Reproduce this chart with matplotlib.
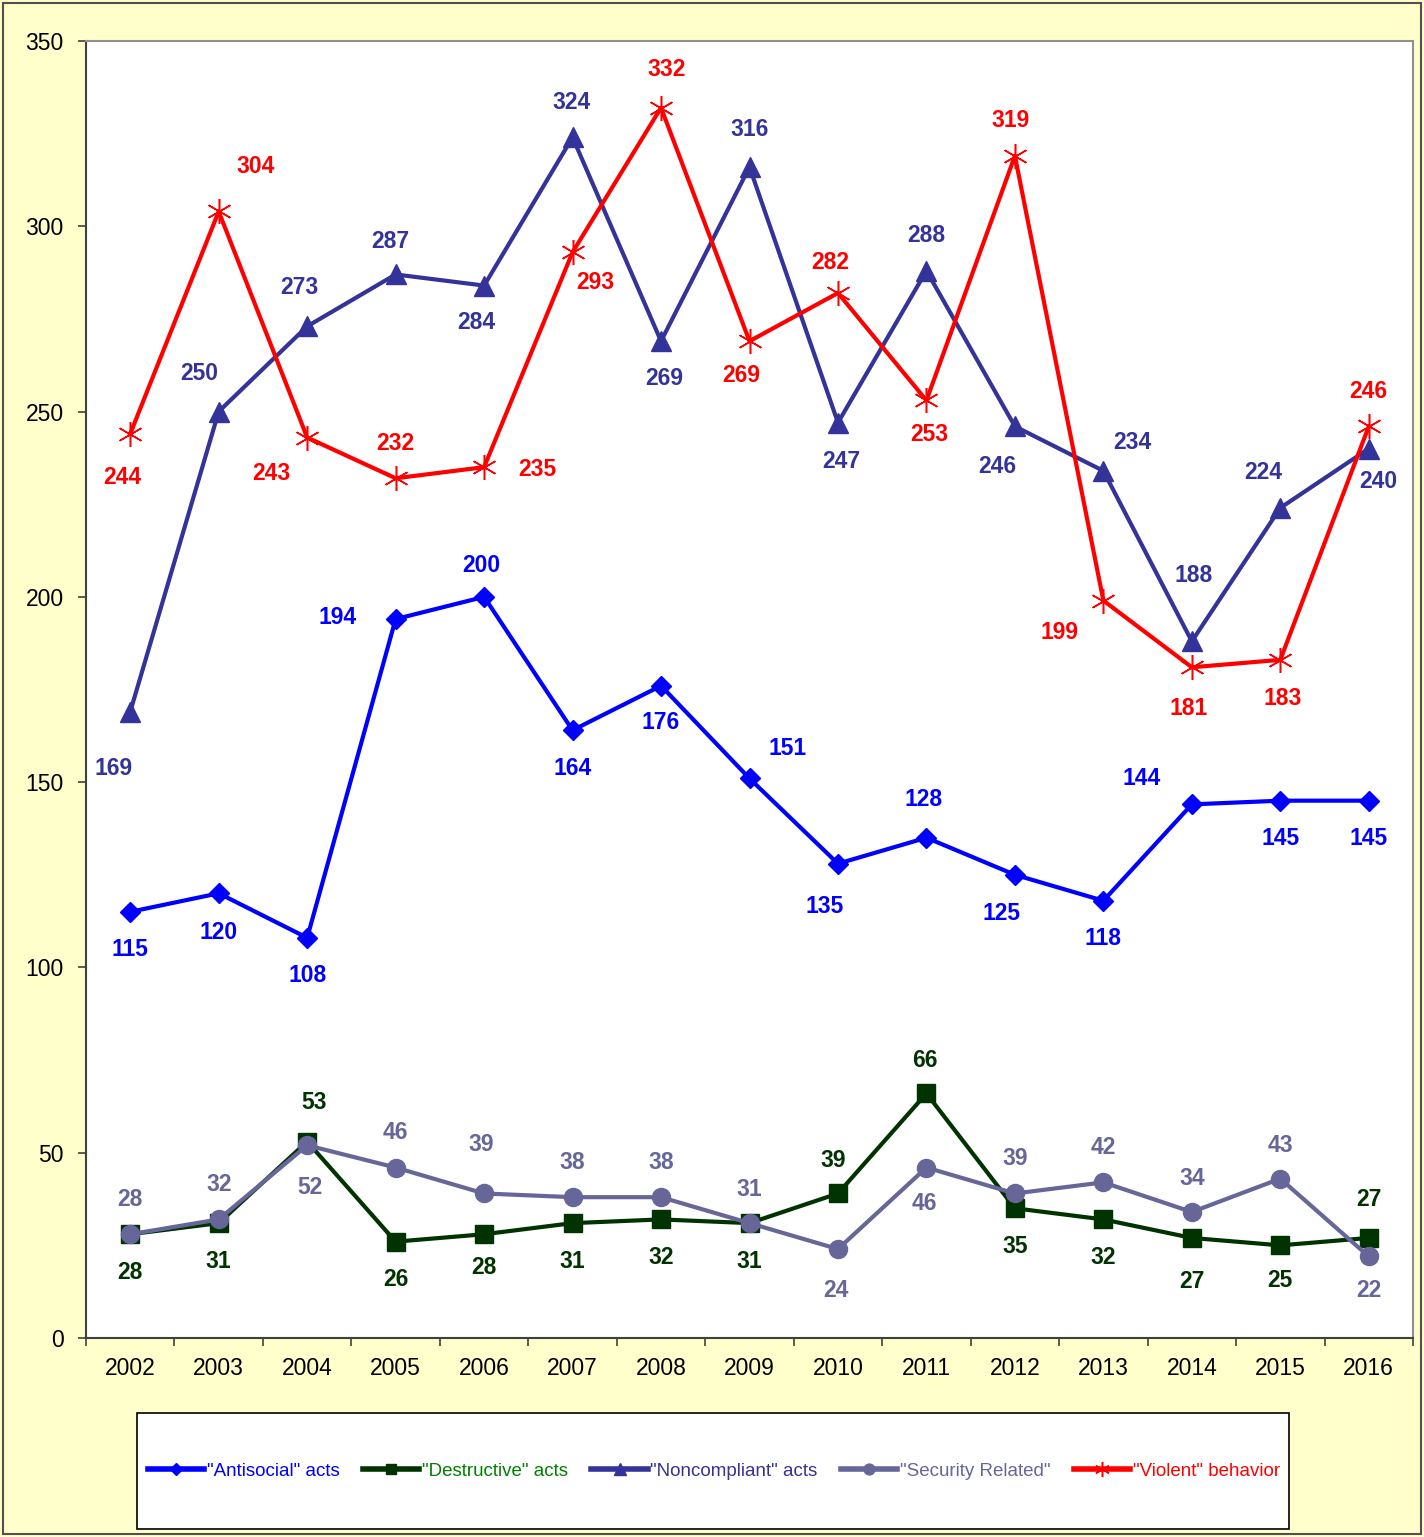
import matplotlib
matplotlib.use('Agg')
import matplotlib.pyplot as plt
from matplotlib.patches import Rectangle

plt.rcParams['font.family'] = ['Liberation Sans', 'DejaVu Sans']

years = [str(y) for y in range(2002, 2017)]

antisocial = [115, 120, 108, 194, 200, 164, 176, 151, 128, 135, 125, 118, 144, 145, 145]
antisocial_labels = ['115', '120', '108', '194', '200', '164', '176', '151', '135', '128',
                     '125', '118', '144', '145', '145']
destructive = [28, 31, 53, 26, 28, 31, 32, 31, 39, 66, 35, 32, 27, 25, 27]
noncompliant = [169, 250, 273, 287, 284, 324, 269, 316, 247, 288, 246, 234, 188, 224, 240]
security = [28, 32, 52, 46, 39, 38, 38, 31, 24, 46, 39, 42, 34, 43, 22]
violent = [244, 304, 243, 232, 235, 293, 332, 269, 282, 253, 319, 199, 181, 183, 246]

# label offsets in pixels (dx right, dy down) relative to each point
off_antisocial = [(0, 38), (0, 39), (0, 38), (-58, -2), (-3, -31), (0, 38), (0, 37), (38, -30),
                  (-13, 43), (-3, -38), (-13, 39), (0, 38), (-50, -26), (0, 38), (0, 38)]
off_destructive = [(0, 38), (0, 38), (7, -39), (0, 38), (0, 33), (0, 38), (0, 38), (0, 38),
                   (-5, -33), (-2, -33), (0, 38), (0, 38), (0, 44), (0, 35), (0, -38)]
off_noncompliant = [(-17, 57), (-19, -38), (-8, -39), (-5, -33), (-8, 37), (-1, -35), (3, 37),
                    (0, -37), (3, 39), (0, -35), (-18, 40), (29, -28), (2, -66), (-17, -35), (10, 33)]
off_security = [(0, -35), (0, -35), (3, 42), (0, -35), (-3, -49), (0, -35), (0, -35), (0, -34),
                (-2, 41), (-2, 36), (0, -35), (0, -35), (0, -34), (0, -33), (0, 34)]
off_violent = [(-8, 44), (37, -45), (-36, 36), (0, -35), (53, 2), (23, 30), (6, -38), (-8, 34),
               (-8, -30), (3, 34), (-4, -35), (-44, 32), (-3, 41), (2, 39), (0, -35)]

series = [
    ('"Antisocial" acts', antisocial, antisocial_labels, off_antisocial, '#0000FF', '#0000FF',
     dict(marker='D', markersize=10)),
    ('"Destructive" acts', destructive, None, off_destructive, '#003300', '#008000',
     dict(marker='s', markersize=13)),
    ('"Noncompliant" acts', noncompliant, None, off_noncompliant, '#333399', '#333399',
     dict(marker='^', markersize=14)),
    ('"Security Related"', security, None, off_security, '#666699', '#666699',
     dict(marker='o', markersize=13)),
    ('"Violent" behavior', violent, None, off_violent, '#FF0000', '#FF0000',
     dict(marker=(6, 2, 0), markersize=18, markeredgewidth=1.1)),
]

fig = plt.figure(figsize=(14.24, 15.37), dpi=100, facecolor='#FFFFCC')
ax = fig.add_axes([86 / 1424, 1 - 1338 / 1537, (1413 - 86) / 1424, (1338 - 41) / 1537])
ax.set_facecolor('white')

x = list(range(len(years)))
handles = []
for name, vals, labels, offs, color, tcolor, mk in series:
    h, = ax.plot(x, vals, color=color, linewidth=3, label=name, **mk)
    handles.append((h, tcolor))
    if labels is None:
        labels = [str(v) for v in vals]
    for xi, v, lab, (dx, dy) in zip(x, vals, labels, offs):
        ax.annotate(lab, (xi, v), xytext=(dx, -dy), textcoords='offset pixels',
                    ha='center', va='center', fontsize=16.5, fontweight='bold', color=color)

ax.set_xlim(-0.5, len(years) - 0.5)
ax.set_ylim(0, 350)
ax.set_yticks(range(0, 351, 50))
ax.set_xticks(x)
ax.set_xticklabels(years)
ax.set_xticks([i - 0.5 for i in range(len(years) + 1)], minor=True)
ax.tick_params(axis='x', which='major', length=0, pad=14, labelsize=16.5)
ax.tick_params(axis='x', which='minor', length=6, width=1.2, color='#404040')
ax.tick_params(axis='y', length=6, width=1.2, color='#404040', pad=10, labelsize=16.5)
for s in ['left', 'bottom']:
    ax.spines[s].set_color('#404040')
    ax.spines[s].set_linewidth(1.5)
for s in ['top', 'right']:
    ax.spines[s].set_color('#909090')
    ax.spines[s].set_linewidth(1.5)

# legend box
fig.patches.append(Rectangle((137 / 1424, 1 - 1529 / 1537), (1289 - 137) / 1424, 116 / 1537,
                             transform=fig.transFigure, facecolor='white', edgecolor='black',
                             linewidth=1.2, zorder=1))
leg = fig.legend(handles=[h for h, _ in handles], loc='center',
                 bbox_to_anchor=(714 / 1424, 1 - 1471 / 1537), ncol=5, frameon=False,
                 prop={'family': ['Liberation Sans Narrow', 'Liberation Sans'], 'size': 13.5},
                 handlelength=3.0, handletextpad=0.15, columnspacing=1.25, markerscale=0.6)
for t, (_, tc) in zip(leg.get_texts(), handles):
    t.set_color(tc)
for lh in leg.legend_handles:
    lh.set_linewidth(4)

# outer figure border
fig.patches.append(Rectangle((3 / 1424, 3 / 1537), 1418 / 1424, 1531 / 1537,
                             transform=fig.transFigure, facecolor='none', edgecolor='#505050',
                             linewidth=1.5))

fig.savefig('out.png', dpi=100, facecolor=fig.get_facecolor())
